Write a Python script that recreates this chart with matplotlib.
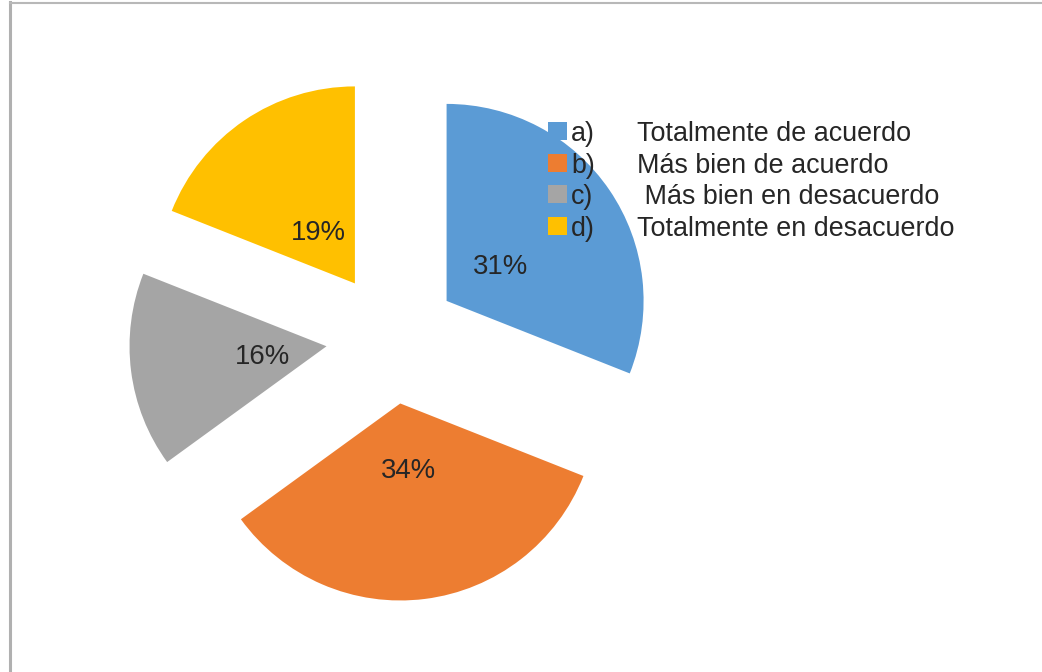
import matplotlib
matplotlib.use("Agg")
import matplotlib.pyplot as plt
from matplotlib.patches import Rectangle
from matplotlib.lines import Line2D

letters = ["a)", "b)", "c)", "d)"]
descriptions = ["Totalmente de acuerdo", "Más bien de acuerdo", " Más bien en desacuerdo", "Totalmente en desacuerdo"]
values = [31, 34, 16, 19]
colors = ["#5B9BD5", "#ED7D31", "#A5A5A5", "#FFC000"]

plt.rcParams['font.family'] = ['Liberation Sans', 'DejaVu Sans']
W, H = 1042, 672
FS = 19.4
fig = plt.figure(figsize=(W / 100, H / 100), dpi=100)

R = 197
S = 3 * R
cx, cy = 392, H - 338
ax = fig.add_axes([(cx - S / 2) / W, (cy - S / 2) / H, S / W, S / H])
wedges, texts, autotexts = ax.pie(values, colors=colors, startangle=90, counterclock=False,
                                  explode=[0.335] * len(values), radius=1,
                                  autopct='%1.0f%%', pctdistance=0.33,
                                  wedgeprops=dict(linewidth=0),
                                  textprops=dict(fontsize=FS + 0.4, color='#262626'))
for t in autotexts:
    t.set_va('center_baseline')
ax.set_xlim(-1.5, 1.5)
ax.set_ylim(-1.5, 1.5)
ax.set_aspect('equal')
ax.axis('off')

# legend
y0 = 131
dy = 31.7
for i, (let, desc, col) in enumerate(zip(letters, descriptions, colors)):
    yc = H - (y0 + i * dy)
    fig.patches.append(Rectangle((548 / W, (yc - 9) / H), 19 / W, 18 / H,
                                 transform=fig.transFigure, facecolor=col, edgecolor='none'))
    fig.text(571 / W, yc / H, let, fontsize=FS, color='#262626', va='center_baseline', ha='left')
    fig.text(637 / W, yc / H, desc, fontsize=FS, color='#262626', va='center_baseline', ha='left')

# frame lines
fig.add_artist(Line2D([10 / W, 10 / W], [0, 1 - 2 / H], transform=fig.transFigure,
                      color='#b0b0b0', linewidth=2.2))
fig.add_artist(Line2D([10 / W, 1], [1 - 2.5 / H, 1 - 2.5 / H], transform=fig.transFigure,
                      color='#b8b8b8', linewidth=1.5))

fig.savefig("out.png", dpi=100)
